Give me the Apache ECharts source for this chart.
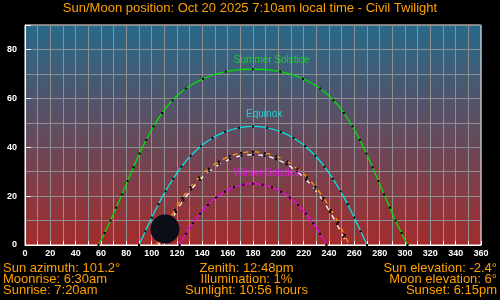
<!DOCTYPE html>
<html><head><meta charset="utf-8">
<script src="https://cdn.jsdelivr.net/npm/echarts@6/dist/echarts.min.js"></script>
<style>html,body{margin:0;padding:0;background:#000;}#c{width:500px;height:300px;}</style>
</head><body><div id="c"></div>
<script>
// Sun paths (azimuth deg, elevation deg), points every 30 min of solar time
const summerAz = [58.0, 62.8, 67.5, 72.0, 76.5, 81.0, 85.6, 90.4, 95.7, 101.5, 108.3, 116.5, 126.9, 140.6, 158.5, 180, 201.5, 219.4, 233.1, 243.5, 251.7, 258.5, 264.3, 269.6, 274.4, 279.0, 283.5, 288.0, 292.5, 297.2, 302.0];
const summerEl = [0.0, 4.9, 10.0, 15.3, 20.7, 26.2, 31.8, 37.4, 43.0, 48.5, 54.0, 59.2, 64.0, 68.0, 70.9, 71.9, 70.9, 68.0, 64.0, 59.2, 54.0, 48.5, 43.0, 37.4, 31.8, 26.2, 20.7, 15.3, 10.0, 4.9, 0.0];
const equinoxAz = [90, 95.0, 100.1, 105.3, 110.9, 117.0, 123.5, 130.8, 138.9, 148.0, 158.0, 168.8, 180, 191.2, 202.0, 212.0, 221.1, 229.2, 236.5, 243.0, 249.1, 254.7, 259.9, 265.0, 270];
const equinoxEl = [0, 5.6, 11.2, 16.7, 22.0, 27.1, 32.0, 36.5, 40.4, 43.8, 46.3, 47.9, 48.5, 47.9, 46.3, 43.8, 40.4, 36.5, 32.0, 27.1, 22.0, 16.7, 11.2, 5.6, 0];
const winterAz = [122.0, 127.1, 132.5, 138.3, 144.4, 150.9, 157.8, 165.0, 172.4, 180, 187.6, 195.0, 202.2, 209.1, 215.6, 221.7, 227.5, 232.9, 238.0];
const winterEl = [0, 4.6, 8.9, 12.8, 16.4, 19.4, 21.8, 23.6, 24.7, 25.1, 24.7, 23.6, 21.8, 19.4, 16.4, 12.8, 8.9, 4.6, 0];
const todaySunAz = [103.9, 107.7, 112.9, 118.4, 124.3, 130.6, 137.5, 144.9, 153.0, 161.6, 170.7, 180, 189.3, 198.4, 207.0, 215.1, 222.5, 229.4, 235.7, 241.6, 247.1, 252.3, 256.1];
const todaySunEl = [0, 4.1, 9.3, 14.4, 19.2, 23.7, 27.7, 31.2, 34.1, 36.3, 37.6, 38.1, 37.6, 36.3, 34.1, 31.2, 27.7, 23.7, 19.2, 14.4, 9.3, 4.1, 0];
const moonPathAz = [105.6, 108.6, 113.8, 119.2, 125.1, 131.3, 138.1, 145.5, 153.4, 161.9, 170.9, 180, 189.1, 198.1, 206.6, 214.5, 221.9, 228.7, 234.9, 240.8, 246.2, 251.4, 254.4];
const moonPathEl = [0, 3.3, 8.5, 13.5, 18.3, 22.7, 26.7, 30.1, 33.0, 35.1, 36.5, 36.9, 36.5, 35.1, 33.0, 30.1, 26.7, 22.7, 18.3, 13.5, 8.5, 3.3, 0];
const moonNow = [110.5, 6.5];
const curveNames = ['Summer Solstice', 'Equinox', 'Winter Solstice'];
const xTicks = [0, 20, 40, 60, 80, 100, 120, 140, 160, 180, 200, 220, 240, 260, 280, 300, 320, 340, 360];
const yTicks = [0, 20, 40, 60, 80];
const titleText = 'Sun/Moon position: Oct 20 2025 7:10am local time - Civil Twilight';
const infoLeft = ['Sun azimuth: 101.2°', 'Moonrise: 6:30am', 'Sunrise: 7:20am'];
const infoMid = ['Zenith: 12:48pm', 'Illumination: 1%', 'Sunlight: 10:56 hours'];
const infoRight = ['Sun elevation: -2.4°', 'Moon elevation: 6°', 'Sunset: 6:15pm'];

const pairs = (a, b) => a.map((v, i) => [v, b[i]]);
const FONT = '"Liberation Sans", Arial, sans-serif';
const ORANGE = '#ffa000';
const GRIDC = '#8f8f8f';

function pathSeries(name, az, el, color, type, hideEnds) {
  const d = pairs(az, el).map((p, i) => {
    if (hideEnds && (i === 0 || i === az.length - 1)) return { value: p, symbolSize: 0 };
    return p;
  });
  return {
    name, type: 'line', data: d, smooth: true, symbol: 'rect', symbolSize: 2,
    itemStyle: { color: '#000', borderWidth: 0 },
    lineStyle: { color, width: 1.3, type: type },
    clip: true, z: 3
  };
}

const chart = echarts.init(document.getElementById('c'), null, { renderer: 'canvas' });
const texts = [];
[infoLeft, infoMid, infoRight].forEach((col, ci) => {
  col.forEach((t, ri) => {
    texts.push({
      type: 'text', z: 10,
      style: {
        text: t, x: [3, 246.5, 497][ci], y: 268.5 + ri * 11.2,
        fill: ORANGE, font: '13px ' + FONT,
        align: ['left', 'center', 'right'][ci], verticalAlign: 'middle'
      }
    });
  });
});

chart.setOption({
  animation: false,
  backgroundColor: '#000',
  title: {
    text: titleText, left: 'center', top: 2, padding: 0,
    textStyle: { color: ORANGE, fontSize: 13, fontWeight: 'normal', fontFamily: FONT }
  },
  grid: {
    left: 25, right: 19, top: 25, bottom: 55, show: true,
    borderColor: '#fff', borderWidth: 1,
    backgroundColor: new echarts.graphic.LinearGradient(0, 0, 0, 1, [
      { offset: 0, color: '#266a8a' },
      { offset: 0.5, color: '#634b5e' },
      { offset: 1, color: '#a42c2c' }
    ])
  },
  xAxis: {
    type: 'value', min: 0, max: 360, interval: 10,
    axisLine: { show: true, lineStyle: { color: '#fff' } },
    axisTick: { show: true, inside: true, length: 4, lineStyle: { color: '#fff' } },
    axisLabel: {
      color: '#fff', fontSize: 9, fontWeight: 'bold', fontFamily: FONT, margin: 4,
      formatter: v => xTicks.includes(v) ? String(v) : ''
    },
    splitLine: { show: true, lineStyle: { color: GRIDC, width: 1 } }
  },
  yAxis: [{
    type: 'value', min: 0, max: 90, interval: 10,
    axisLine: { show: true, lineStyle: { color: '#fff' } },
    axisTick: { show: false },
    axisLabel: {
      color: '#fff', fontSize: 9, fontWeight: 'bold', fontFamily: FONT, margin: 8,
      formatter: v => yTicks.includes(v) ? String(v) : ''
    },
    splitLine: { show: true, lineStyle: { color: GRIDC, width: 1 } }
  }, {
    type: 'value', min: 0, max: 90, interval: 20, position: 'left',
    axisLine: { show: false }, axisLabel: { show: false }, splitLine: { show: false },
    axisTick: { show: true, inside: true, length: 6, lineStyle: { color: '#fff' } }
  }],
  graphic: texts,
  series: [
    pathSeries(curveNames[0], summerAz, summerEl, '#00e000', 'solid', false),
    pathSeries(curveNames[1], equinoxAz, equinoxEl, '#00e5e5', 'solid', false),
    pathSeries(curveNames[2], winterAz, winterEl, '#ee00ee', 'solid', false),
    pathSeries('Moon path', moonPathAz, moonPathEl, '#ffffff', [5, 6], true),
    pathSeries('Sun path today', todaySunAz, todaySunEl, '#ff9c00', [5, 6], true),
    {
      name: 'Moon', type: 'scatter', data: [moonNow], symbol: 'circle', symbolSize: 29,
      itemStyle: { color: '#0b0d18', opacity: 1 }, z: 5, clip: false
    },
    {
      name: 'labels', type: 'scatter', symbolSize: 0, z: 6, silent: true,
      data: [
        { value: [194.7, 75.6], name: curveNames[0], label: { color: '#10ee10' } },
        { value: [188.8, 53.6], name: curveNames[1], label: { color: '#10f0f0' } },
        { value: [191.0, 29.3], name: curveNames[2], label: { color: '#ff10ff' } }
      ],
      label: {
        show: true, position: 'inside', formatter: p => p.name,
        fontSize: 10, fontFamily: FONT
      }
    }
  ]
});
</script>
</body></html>
